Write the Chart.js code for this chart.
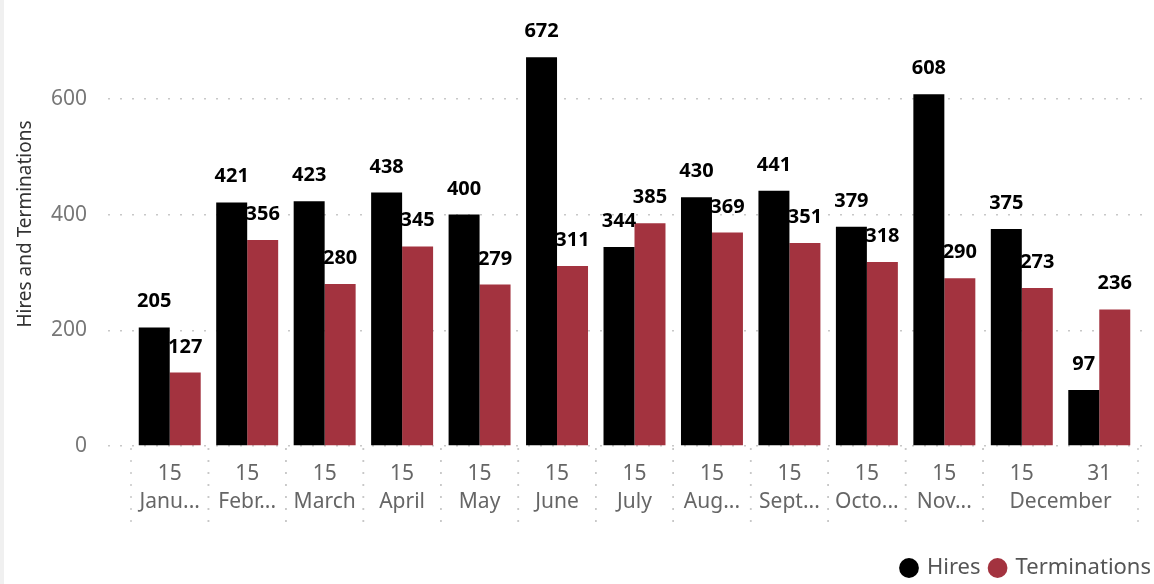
<!DOCTYPE html>
<html>
<head>
<meta charset="utf-8">
<script src="https://cdn.jsdelivr.net/npm/chart.js@4.4.0/dist/chart.umd.min.js"></script>
<style>
html, body { margin: 0; padding: 0; }
body { width: 1154px; height: 584px; overflow: hidden;
  background: linear-gradient(to right, #f0f0f0 0, #f0f0f0 4px, #fff 4px); }
#wrap { width: 1154px; height: 584px; position: relative; }
</style>
</head>
<body>
<div id="wrap"><canvas id="hiresChart"></canvas></div>
<script>
const days = ['15', '15', '15', '15', '15', '15', '15', '15', '15', '15', '15', '15', '31'];
const months = ['Janu...', 'Febr...', 'March', 'April', 'May', 'June', 'July', 'Aug...', 'Sept...', 'Octo...', 'Nov...', 'December', 'December'];
const hires = [205, 421, 423, 438, 400, 672, 344, 430, 441, 379, 608, 375, 97];
const terminations = [127, 356, 280, 345, 279, 311, 385, 369, 351, 318, 290, 273, 236];
const yTicks = [0, 200, 400, 600];
const yTitle = 'Hires and Terminations';

const FONT = '"Noto Sans", "Open Sans", sans-serif';
const GRID = '#c8c8c8';

// inset the categories inside the plot area like Power BI does, nudge legend right
const insetPlugin = {
  id: 'inset',
  afterLayout(chart) {
    const x = chart.scales.x;
    x.left = 131; x.right = 1138;
    x.configure();
    chart.legend.left += 9; chart.legend.right += 9;
  }
};

const valueLabels = {
  id: 'valueLabels',
  afterDatasetsDraw(chart) {
    const ctx = chart.ctx;
    ctx.save();
    ctx.font = 'bold 20px ' + FONT;
    ctx.fillStyle = '#000';
    ctx.textAlign = 'center';
    ctx.textBaseline = 'alphabetic';
    chart.data.datasets.forEach((ds, di) => {
      chart.getDatasetMeta(di).data.forEach((bar, i) => {
        ctx.fillText(ds.data[i], bar.x, bar.y - 20);
      });
    });
    ctx.restore();
  }
};

// month row + dotted group separators under the day ticks, y title
const monthRow = {
  id: 'monthRow',
  afterDraw(chart) {
    const ctx = chart.ctx, x = chart.scales.x;
    const half = (x.getPixelForValue(1) - x.getPixelForValue(0)) / 2;
    ctx.save();
    ctx.strokeStyle = GRID; ctx.lineWidth = 1.5; ctx.setLineDash([2, 10]);
    ctx.font = '21px ' + FONT; ctx.fillStyle = '#666';
    ctx.textAlign = 'center'; ctx.textBaseline = 'middle';
    let start = 0;
    for (let i = 1; i <= months.length; i++) {
      if (i === months.length || months[i] !== months[start]) {
        const a = x.getPixelForValue(start), b = x.getPixelForValue(i - 1);
        ctx.fillText(months[start], (a + b) / 2, 502);
        [a - half, b + half].forEach(px => {
          ctx.beginPath(); ctx.moveTo(px, 448); ctx.lineTo(px, 522); ctx.stroke();
        });
        start = i;
      }
    }
    ctx.translate(26, 224);
    ctx.rotate(-Math.PI / 2);
    ctx.font = '19px ' + FONT; ctx.fillStyle = '#333';
    ctx.fillText(yTitle, 0, 0);
    ctx.restore();
  }
};

new Chart(document.getElementById('hiresChart'), {
  type: 'bar',
  data: {
    labels: days,
    datasets: [
      { label: 'Hires', data: hires, backgroundColor: '#000000' },
      { label: 'Terminations', data: terminations, backgroundColor: '#A3333F' }
    ]
  },
  options: {
    responsive: true,
    maintainAspectRatio: false,
    animation: false,
    layout: { padding: { top: 41, right: 2, left: 0, bottom: -5 } },
    datasets: { bar: { barPercentage: 1, categoryPercentage: 0.8 } },
    plugins: {
      tooltip: { enabled: false },
      legend: {
        position: 'bottom',
        align: 'end',
        labels: {
          usePointStyle: true, pointStyle: 'circle',
          boxWidth: 14, boxHeight: 14, padding: 10,
          color: '#555', font: { family: FONT, size: 22 }
        }
      }
    },
    scales: {
      x: {
        grid: { display: false, drawTicks: false },
        border: { display: false },
        ticks: { color: '#666', font: { family: FONT, size: 21 }, padding: 15, maxRotation: 0, autoSkip: false },
        afterFit(s) { s.height = 101; }
      },
      y: {
        min: 0, max: 700,
        afterBuildTicks(s) { s.ticks = yTicks.map(v => ({ value: v })); },
        grid: { color: GRID, lineWidth: 1.5, drawTicks: false },
        border: { display: false, dash: [2, 10] },
        ticks: { color: '#777', font: { family: FONT, size: 21 }, padding: 21 },
        afterFit(s) { s.width = 108; }
      }
    }
  },
  plugins: [insetPlugin, valueLabels, monthRow]
});
</script>
</body>
</html>
